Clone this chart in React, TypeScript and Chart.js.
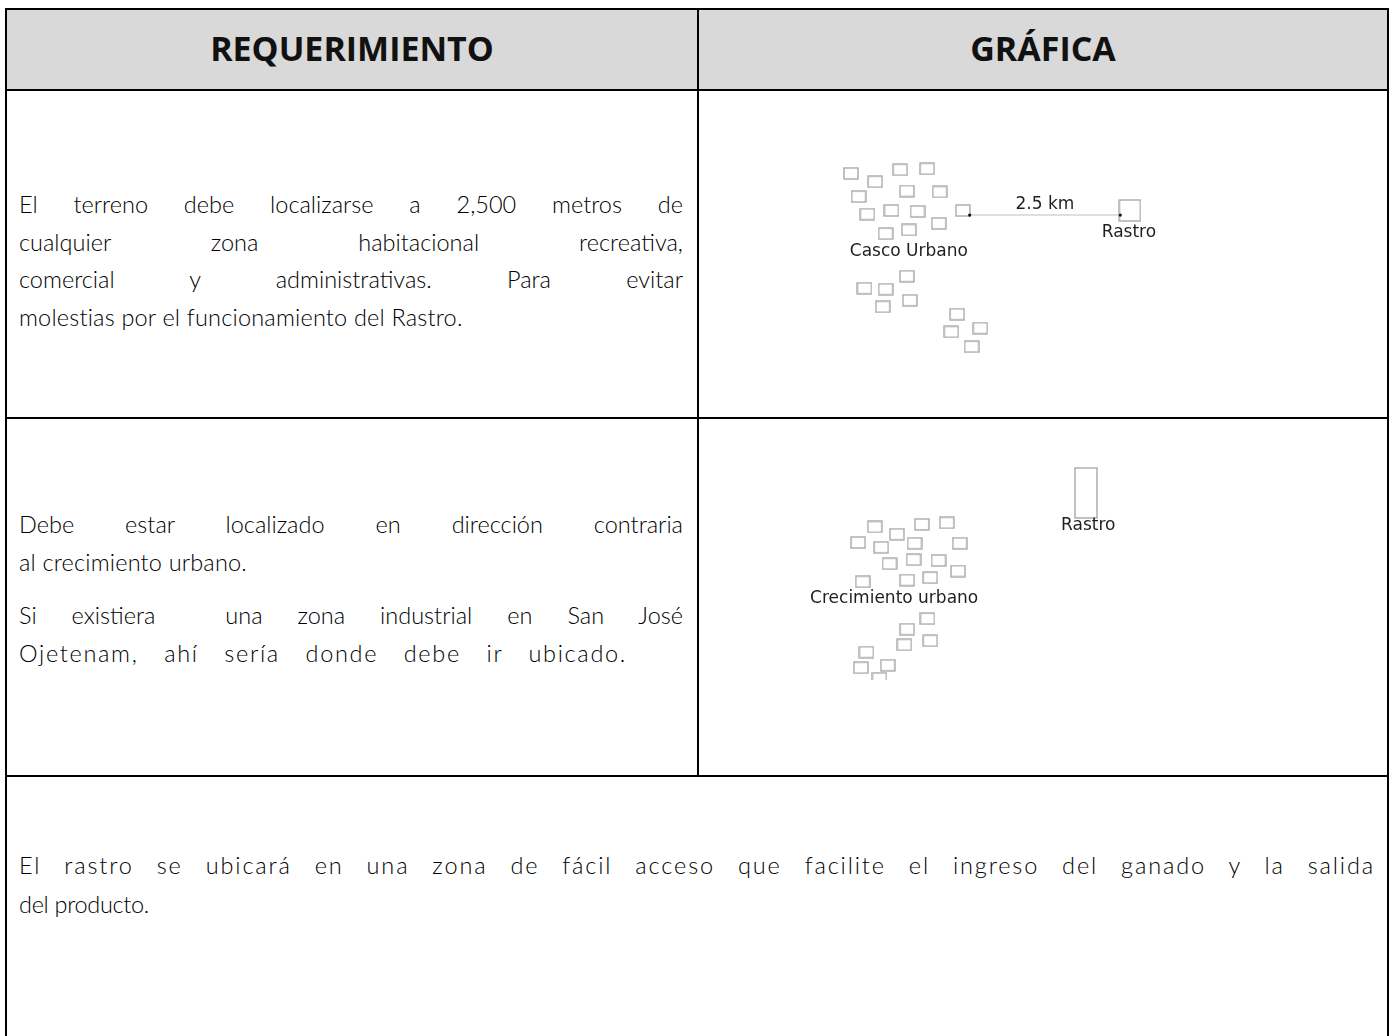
import React, { useEffect, useLayoutEffect, useRef, useState } from "react";
import { Chart, registerables } from "chart.js";

Chart.register(...registerables);

// ---------- text content ----------
const headerLabels = ["REQUERIMIENTO", "GRÁFICA"];
const row1Lines = [
  "El terreno debe localizarse a 2,500 metros de",
  "cualquier zona habitacional recreativa,",
  "comercial y administrativas. Para evitar",
  "molestias por el funcionamiento del Rastro.",
];
const row2ParaA = ["Debe estar localizado en dirección contraria", "al crecimiento urbano."];
const row2ParaB = ["Si existiera  una zona industrial en San José", "Ojetenam, ahí sería donde debe ir ubicado."];
const row3Lines = [
  "El rastro se ubicará en una zona de fácil acceso que facilite el ingreso del ganado y la salida",
  "del producto.",
];

// ---------- diagram 1 data (Casco Urbano / Rastro at 2.5 km) ----------
const cascoX = [145, 170, 196, 224, 153, 203, 237, 162, 187, 214, 261, 181, 205, 236, 203, 159, 181, 206, 178, 255, 249, 279, 270];
const cascoY = [76, 85, 72, 71, 101, 95, 96, 120, 116, 117, 116, 141, 137, 130, 187, 200, 201, 213, 220, 228, 247, 243, 263];
const rastro1X = [434];
const rastro1Y = [116];
const distLineX = [268, 424];
const distLineY = [121, 121];
const diag1LabelText = ["2.5 km", "Rastro", "Casco Urbano"];
const diag1LabelX = [346, 433, 205];
const diag1LabelY = [110, 140, 160];

// ---------- diagram 2 data (Crecimiento urbano / Rastro) ----------
const crecX = [162, 213, 240, 186, 144, 169, 205, 254, 178, 204, 231, 252, 149, 197, 222, 219, 197, 194, 222, 153, 147, 176, 167];
const crecY = [100, 97, 95, 109, 119, 125, 120, 120, 145, 140, 141, 154, 167, 165, 162, 212, 225, 244, 239, 253, 272, 269, 285];
const rastro2X = [390.5];
const rastro2Y = [58.5];
const diag2LabelText = ["Rastro", "Crecimiento urbano"];
const diag2LabelX = [393, 183];
const diag2LabelY = [98, 188];

function rectImage(w: number, h: number, color: string, lw: number) {
  const c = document.createElement("canvas");
  c.width = w + 2;
  c.height = h + 2;
  const ctx = c.getContext("2d")!;
  ctx.strokeStyle = color;
  ctx.lineWidth = lw;
  ctx.strokeRect(1, 1, w, h);
  return c;
}

function labelPlugin(texts: string[], xs: number[], ys: number[]) {
  return {
    id: "labels",
    afterDatasetsDraw(chart: any) {
      const { ctx, scales } = chart;
      ctx.save();
      ctx.font = '17px "DejaVu Sans", Verdana, sans-serif';
      ctx.fillStyle = "#1f1f1f";
      ctx.textAlign = "center";
      ctx.textBaseline = "middle";
      texts.forEach((t, i) => {
        ctx.fillText(t, scales.x.getPixelForValue(xs[i]), scales.y.getPixelForValue(ys[i]));
      });
      ctx.restore();
    },
  };
}

function baseOptions(w: number, h: number) {
  return {
    responsive: false,
    animation: false as const,
    devicePixelRatio: 1,
    layout: { padding: 0 },
    plugins: { legend: { display: false }, tooltip: { enabled: false } },
    events: [] as any[],
    scales: {
      x: { type: "linear" as const, min: 0, max: w, display: false },
      y: { type: "linear" as const, min: 0, max: h, reverse: true, display: false },
    },
  };
}

const toPts = (xs: number[], ys: number[]) => xs.map((x, i) => ({ x, y: ys[i] }));

function Diagram1({ w, h }: { w: number; h: number }) {
  const ref = useRef<HTMLCanvasElement>(null);
  useEffect(() => {
    const small = rectImage(14, 11, "#a9a9a9", 1.4);
    const big = rectImage(21, 21, "#a9a9a9", 1.4);
    const chart = new Chart(ref.current!, {
      type: "scatter",
      data: {
        datasets: [
          { data: toPts(distLineX, distLineY), showLine: true, borderColor: "#d4d4d4", borderWidth: 1.5, pointRadius: 1.6, pointBackgroundColor: "#111", pointBorderWidth: 0 },
          { data: toPts(cascoX, cascoY), pointStyle: small as any, pointRadius: 7 },
          { data: toPts(rastro1X, rastro1Y), pointStyle: big as any, pointRadius: 11 },
        ],
      },
      options: baseOptions(w, h) as any,
      plugins: [labelPlugin(diag1LabelText, diag1LabelX, diag1LabelY)],
    });
    return () => chart.destroy();
  }, []);
  return <canvas ref={ref} width={w} height={h} style={{ width: w, height: h, display: "block" }} />;
}

function Diagram2({ w, h }: { w: number; h: number }) {
  const ref = useRef<HTMLCanvasElement>(null);
  useEffect(() => {
    const small = rectImage(14, 11, "#a9a9a9", 1.4);
    const tall = rectImage(22, 50, "#a9a9a9", 1.4);
    const chart = new Chart(ref.current!, {
      type: "scatter",
      data: {
        datasets: [
          { data: toPts(crecX, crecY), pointStyle: small as any, pointRadius: 7 },
          { data: toPts(rastro2X, rastro2Y), pointStyle: tall as any, pointRadius: 25 },
        ],
      },
      options: baseOptions(w, h) as any,
      plugins: [labelPlugin(diag2LabelText, diag2LabelX, diag2LabelY)],
    });
    return () => chart.destroy();
  }, []);
  return <canvas ref={ref} width={w} height={h} style={{ width: w, height: h, display: "block" }} />;
}

type Mode = "word" | "letter" | "mix";

function FitLine({ text, width, mode, lineHeight }: { text: string; width: number; mode: Mode; lineHeight: number }) {
  const ref = useRef<HTMLSpanElement>(null);
  const [tick, setTick] = useState(0);
  useEffect(() => {
    (document as any).fonts?.ready?.then(() => setTick((t) => t + 1));
  }, []);
  useLayoutEffect(() => {
    const el = ref.current!;
    el.style.letterSpacing = "0px";
    el.style.wordSpacing = "0px";
    const natural = el.getBoundingClientRect().width;
    const extra = width - natural;
    const spaces = (text.match(/ /g) || []).length || 1;
    if (mode === "word") {
      el.style.wordSpacing = extra / spaces + "px";
    } else if (mode === "letter") {
      el.style.letterSpacing = extra / text.length + "px";
    } else {
      el.style.wordSpacing = (extra * 0.6) / spaces + "px";
      el.style.letterSpacing = (extra * 0.4) / text.length + "px";
    }
  }, [tick, text, width, mode]);
  return (
    <div style={{ height: lineHeight, lineHeight: lineHeight + "px", whiteSpace: "nowrap" }}>
      <span ref={ref} style={{ whiteSpace: "pre", display: "inline-block" }}>
        {text}
      </span>
    </div>
  );
}

function Para({
  lines,
  widths,
  modes,
  left,
  top,
  fontSize,
  lineHeight,
}: {
  lines: string[];
  widths: number[];
  modes: Mode[];
  left: number;
  top: number;
  fontSize: number;
  lineHeight: number;
}) {
  return (
    <div style={{ position: "absolute", left, top, fontFamily: 'Lato, "Open Sans", sans-serif', fontWeight: 300, fontSize, color: "#000" }}>
      {lines.map((l, i) => (
        <FitLine key={i} text={l} width={widths[i]} mode={modes[i]} lineHeight={lineHeight} />
      ))}
    </div>
  );
}

const line = (l: number, t: number, w: number, h: number) => (
  <div style={{ position: "absolute", left: l, top: t, width: w, height: h, background: "#000" }} />
);

export default function App() {
  const headerStyle: React.CSSProperties = {
    position: "absolute",
    top: 31,
    fontFamily: '"Open Sans", Lato, sans-serif',
    fontWeight: 700,
    fontSize: 34,
    lineHeight: "34px",
    textAlign: "center",
    color: "#111",
  };
  return (
    <div style={{ position: "fixed", left: 0, top: 0, width: 1392, height: 1036, background: "#fff", overflow: "hidden" }}>
      {/* header fill */}
      <div style={{ position: "absolute", left: 7, top: 10, width: 1380, height: 79, background: "#d9d9d9" }} />
      <div style={{ ...headerStyle, left: 7, width: 690 }}>{headerLabels[0]}</div>
      <div style={{ ...headerStyle, left: 699, width: 688 }}>{headerLabels[1]}</div>

      {/* text cells */}
      <Para lines={row1Lines} widths={[664, 664, 664, 444]} modes={["word", "word", "word", "letter"]} left={19} top={186} fontSize={23.5} lineHeight={37.5} />
      <Para lines={row2ParaA} widths={[664, 228]} modes={["word", "letter"]} left={19} top={506} fontSize={23.5} lineHeight={37.5} />
      <Para lines={row2ParaB} widths={[664, 608]} modes={["word", "mix"]} left={19} top={597} fontSize={23.5} lineHeight={37.5} />
      <Para lines={row3Lines} widths={[1356, 130]} modes={["mix", "letter"]} left={19} top={846} fontSize={23.5} lineHeight={38.5} />

      {/* diagrams */}
      <div style={{ position: "absolute", left: 699, top: 91 }}>
        <Diagram1 w={688} h={326} />
      </div>
      <div style={{ position: "absolute", left: 699, top: 419 }}>
        <Diagram2 w={688} h={287} />
      </div>

      {/* table borders */}
      {line(5, 8, 1384, 2)}
      {line(5, 89, 1384, 2)}
      {line(5, 417, 1384, 2)}
      {line(5, 775, 1384, 2)}
      {line(5, 8, 2, 1028)}
      {line(1387, 8, 2, 1028)}
      {line(697, 8, 2, 769)}
    </div>
  );
}
